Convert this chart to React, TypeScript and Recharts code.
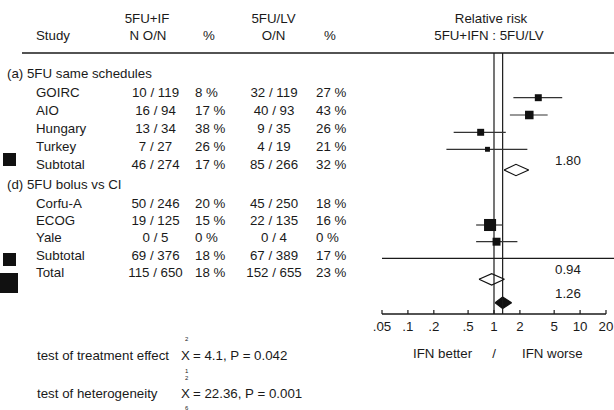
import React from 'react';
import { ComposedChart, XAxis, YAxis, Scatter, ErrorBar, Area, ReferenceLine } from 'recharts';

// ---------- data ----------
const studies = ['GOIRC', 'AIO', 'Hungary', 'Turkey', 'Corfu-A', 'ECOG'];
const rrEstimate = [3.27, 2.57, 0.7, 0.84, 0.9, 1.07];
const rrLower = [1.68, 1.53, 0.34, 0.28, 0.62, 0.62];
const rrUpper = [6.2, 4.2, 1.37, 2.44, 1.26, 1.87];
const studyWeight = [10, 15, 10, 5, 30, 13];

const summaryNames = ['Subtotal (a)', 'Subtotal (d)', 'Total'];
const summaryEstimate = [1.8, 0.94, 1.26];
const summaryLower = [1.31, 0.67, 1.03];
const summaryUpper = [2.53, 1.32, 1.6];

const xTicks = [0.05, 0.1, 0.2, 0.5, 1, 2, 5, 10, 20];
const xTickLabels = ['.05', '.1', '.2', '.5', '1', '2', '5', '10', '20'];

const tableStudy = ['(a) 5FU same schedules', 'GOIRC', 'AIO', 'Hungary', 'Turkey', 'Subtotal', '(d) 5FU bolus vs CI', 'Corfu-A', 'ECOG', 'Yale', 'Subtotal', 'Total'];
const ifnON = ['', '10 / 119', '16 / 94', '13 / 34', '7 / 27', '46 / 274', '', '50 / 246', '19 / 125', '0 / 5', '69 / 376', '115 / 650'];
const ifnPct = ['', '8 %', '17 %', '38 %', '26 %', '17 %', '', '20 %', '15 %', '0 %', '18 %', '18 %'];
const lvON = ['', '32 / 119', '40 / 93', '9 / 35', '4 / 19', '85 / 266', '', '45 / 250', '22 / 135', '0 / 4', '67 / 389', '152 / 655'];
const lvPct = ['', '27 %', '43 %', '26 %', '21 %', '32 %', '', '18 %', '16 %', '0 %', '17 %', '23 %'];
const isSection = [true, false, false, false, false, false, true, false, false, false, false, false];

// ---------- layout ----------
const W = 614;
const H = 410;
const PLOT_TOP = 53;
const PLOT_BOTTOM = 314;
const tableRowY = [72.8, 92, 110, 128, 146, 164.3, 184.3, 203.3, 220.5, 237.2, 255, 271.7];
const studyRowY = [97.7, 115, 132.3, 149.3, 225, 241.7];
const summaryRowY = [170, 279.3, 302.7];
const summaryFill = ['#fff', '#fff', '#111'];
const FONT = '"Liberation Sans", Arial, sans-serif';
const FS = 13.3;
const INK = '#1a1a1a';

const studyData = studies.map((s, i) => ({
  name: s,
  x: rrEstimate[i],
  y: studyRowY[i],
  err: [rrEstimate[i] - rrLower[i], rrUpper[i] - rrEstimate[i]],
  w: studyWeight[i],
}));

const diamondData = summaryNames.map((n, i) => {
  const y = summaryRowY[i];
  const h = 5.7;
  return [
    { x: summaryLower[i], band: [y, y] },
    { x: summaryEstimate[i], band: [y - h, y + h] },
    { x: summaryUpper[i], band: [y, y] },
  ];
});

const SquareShape = (props: any) => {
  const { cx, cy, payload } = props;
  const s = 2.2 * Math.sqrt(payload.w);
  return <rect x={cx - s / 2} y={cy - s / 2} width={s} height={s} fill="#111" />;
};

const AxisTick = (props: any) => {
  const { x, y, payload, index } = props;
  return (
    <g>
      <line x1={x} x2={x} y1={y} y2={y - 4} stroke={INK} strokeWidth={1.2} />
      <text x={x} y={y + 17} textAnchor="middle" fontFamily={FONT} fontSize={FS} fill={INK}>
        {xTickLabels[xTicks.indexOf(payload.value)] ?? xTickLabels[index]}
      </text>
    </g>
  );
};

const T = (p: any) => (
  <text fontFamily={FONT} fontSize={FS} fill={INK} {...p} />
);

export default function App() {
  const base = (c: number) => c + 4.8;
  return (
    <div style={{ position: 'absolute', left: 0, top: 0, width: W, height: H, background: '#fff' }}>
      <ComposedChart width={W} height={H} margin={{ top: PLOT_TOP, right: 8, bottom: 76, left: 382 }}>
        <XAxis
          type="number"
          dataKey="x"
          scale="log"
          domain={[0.05, 20]}
          allowDataOverflow
          ticks={xTicks}
          interval={0}
          height={20}
          tickSize={0}
          tickMargin={0}
          tickLine={false}
          axisLine={{ stroke: INK, strokeWidth: 1.3 }}
          tick={<AxisTick />}
        />
        <YAxis type="number" dataKey="y" domain={[PLOT_TOP, PLOT_BOTTOM]} reversed hide allowDataOverflow />
        <ReferenceLine x={1} stroke={INK} strokeWidth={1.2} />
        <ReferenceLine x={summaryEstimate[2]} stroke={INK} strokeWidth={1.2} />
        <Scatter data={studyData} dataKey="y" shape={<SquareShape />} isAnimationActive={false}>
          <ErrorBar dataKey="err" direction="x" width={0} stroke="#333" strokeWidth={1.2} />
        </Scatter>
        {diamondData.map((d, i) => (
          <Area
            key={i}
            data={d}
            dataKey="band"
            type="linear"
            stroke="#111"
            strokeWidth={1.2}
            fill={summaryFill[i]}
            fillOpacity={1}
            dot={false}
            activeDot={false}
            isAnimationActive={false}
          />
        ))}
      </ComposedChart>
      <svg width={W} height={H} style={{ position: 'absolute', left: 0, top: 0, pointerEvents: 'none' }}>
        {/* header */}
        <T x={147} y={base(18)} textAnchor="middle">5FU+IF</T>
        <T x={36} y={base(35)}>Study</T>
        <T x={148} y={base(35)} textAnchor="middle">N O/N</T>
        <T x={209} y={base(35)} textAnchor="middle">%</T>
        <T x={273.5} y={base(18)} textAnchor="middle">5FU/LV</T>
        <T x={273.5} y={base(35)} textAnchor="middle">O/N</T>
        <T x={330} y={base(35)} textAnchor="middle">%</T>
        <T x={491} y={base(18)} textAnchor="middle">Relative risk</T>
        <T x={489} y={base(35)} textAnchor="middle">5FU+IFN : 5FU/LV</T>
        <line x1={22} x2={W} y1={53} y2={53} stroke={INK} strokeWidth={1.3} />
        <line x1={382} x2={W} y1={258.3} y2={258.3} stroke={INK} strokeWidth={1.2} />
        {/* table */}
        {tableStudy.map((s, i) => (
          <g key={i}>
            <T x={isSection[i] ? 7 : 36} y={base(tableRowY[i])}>{s}</T>
            <T x={155.5} y={base(tableRowY[i])} textAnchor="middle">{ifnON[i]}</T>
            <T x={195} y={base(tableRowY[i])}>{ifnPct[i]}</T>
            <T x={274} y={base(tableRowY[i])} textAnchor="middle">{lvON[i]}</T>
            <T x={316} y={base(tableRowY[i])}>{lvPct[i]}</T>
          </g>
        ))}
        {/* summary values */}
        {summaryEstimate.map((v, i) => (
          <T key={i} x={555} y={base(summaryRowY[i] - 9.8)}>{v.toFixed(2)}</T>
        ))}
        {/* left squares */}
        <rect x={3} y={153} width={13} height={13} fill="#111" />
        <rect x={3} y={253} width={13} height={13} fill="#111" />
        <rect x={-1} y={273} width={19} height={20} fill="#111" />
        {/* bottom labels */}
        <T x={413} y={base(352.7)}>IFN better</T>
        <T x={494} y={base(352.7)} textAnchor="middle">/</T>
        <T x={522} y={base(352.7)}>IFN worse</T>
        <T x={37} y={base(355)}>test of treatment effect</T>
        <T x={181} y={base(355)}>X</T>
        <text x={185} y={341} fontFamily={FONT} fontSize={6} fill={INK}>2</text>
        <text x={185} y={373} fontFamily={FONT} fontSize={6} fill={INK}>1</text>
        <T x={193} y={base(355)}>= 4.1, P = 0.042</T>
        <T x={37} y={base(393.5)}>test of heterogeneity</T>
        <T x={181} y={base(393.5)}>X</T>
        <text x={185} y={380} fontFamily={FONT} fontSize={6} fill={INK}>2</text>
        <text x={185} y={410} fontFamily={FONT} fontSize={6} fill={INK}>6</text>
        <T x={193} y={base(393.5)}>= 22.36, P = 0.001</T>
      </svg>
    </div>
  );
}
